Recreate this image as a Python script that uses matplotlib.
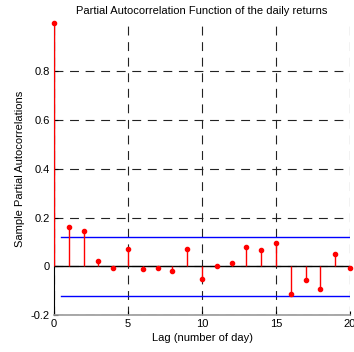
import matplotlib
matplotlib.use("Agg")
import matplotlib.pyplot as plt
import numpy as np

plt.rcParams['font.family'] = ['Liberation Sans', 'DejaVu Sans']

lags = list(range(0, 21))
pacf = [1.0, 0.160, 0.144, 0.021, -0.008, 0.073, -0.011, -0.005, -0.018, 0.073,
        -0.053, 0.0, 0.014, 0.081, 0.066, 0.097, -0.112, -0.056, -0.092, 0.052, -0.008]
bound = 0.122
xticks = [0, 5, 10, 15, 20]
yticks = [-0.2, 0, 0.2, 0.4, 0.6, 0.8]
yticklabels = ['-0.2', '0', '0.2', '0.4', '0.6', '0.8']

fig = plt.figure(figsize=(3.54, 3.52), dpi=100)
ax = fig.add_axes([54/354, 37/352, 296/354, 292.3/352])

ax.set_xlim(0, 20)
ax.set_ylim(-0.2, 1.0)
ax.set_xticks(xticks)
ax.set_yticks(yticks)
ax.set_yticklabels(yticklabels)
ax.tick_params(direction='in', length=3, width=0.8, labelsize=8, colors='k', pad=3)

ax.grid(True, color='#222222', linestyle=(0, (8, 6)), linewidth=0.8)
ax.set_axisbelow(True)

for s in ['top', 'right']:
    ax.spines[s].set_visible(False)
ax.spines['bottom'].set_color('#999999')
ax.spines['bottom'].set_linewidth(1.2)
ax.spines['left'].set_color('k')
ax.spines['left'].set_linewidth(0.8)

ax.axhline(0, color='k', linewidth=1, zorder=2)
ax.plot([0.5, 20], [bound, bound], color='#0000ff', linewidth=1, zorder=3)
ax.plot([0.5, 20], [-bound, -bound], color='#0000ff', linewidth=1, zorder=3)

ml, sl, bl = ax.stem(lags, pacf, basefmt=' ')
plt.setp(sl, color='#ff0000', linewidth=1, zorder=4)
plt.setp(ml, color='#ff0000', marker='o', markersize=3, zorder=5, clip_on=False)

ax.set_title('Partial Autocorrelation Function of the daily returns', fontsize=8, pad=6)
ax.set_xlabel('Lag (number of day)', fontsize=8, labelpad=3)
ax.set_ylabel('Sample Partial Autocorrelations', fontsize=8, labelpad=4)

fig.savefig('out.png', dpi=100)
